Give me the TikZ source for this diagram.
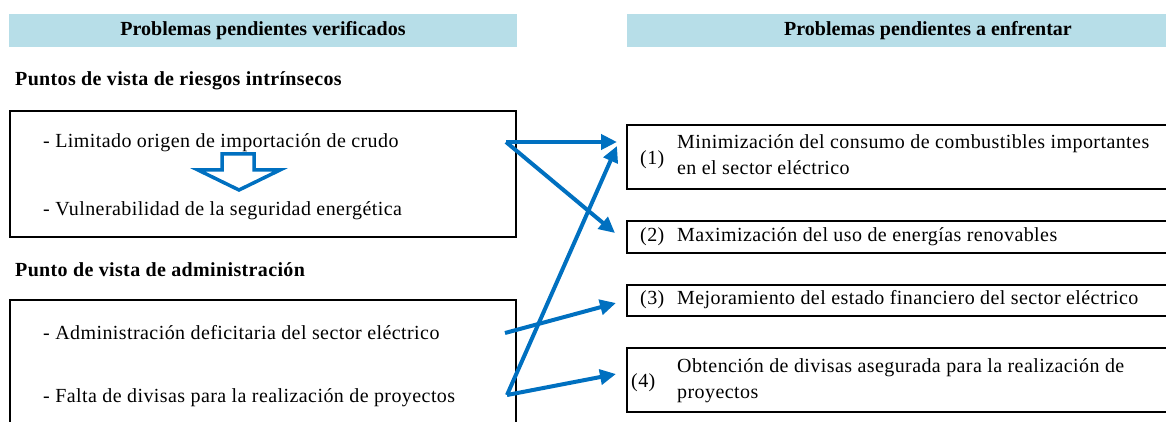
\documentclass[tikz,border=0pt]{standalone}
\usepackage{fontspec}
\setmainfont{Liberation Serif}
\usetikzlibrary{arrows.meta}
\definecolor{hdrblue}{HTML}{B7DEE8}
\definecolor{arrblue}{HTML}{0070C0}
\tikzset{
  hdr/.style={fill=hdrblue, draw=none},
  frame/.style={draw=black, line width=2pt},
  txt/.style={anchor=base west, inner sep=0pt, font=\fontsize{20}{24}\selectfont\addfontfeatures{LetterSpace=2.1}},
  btxt/.style={anchor=base west, inner sep=0pt, font=\fontsize{20}{24}\selectfont\bfseries\addfontfeatures{LetterSpace=1.8}},
  link/.style={draw=arrblue, line width=4pt, -{Triangle[length=16pt,width=15pt]}},
  hollow/.style={draw=arrblue, line width=3.5pt, fill=white, line join=miter},
}
\begin{document}
\begin{tikzpicture}[x=1pt,y=-1pt]
\useasboundingbox (0,0) rectangle (1166,422);
\clip (0,0) rectangle (1166,422);
% headers
\fill[hdr] (9,14) rectangle (517,47);
\node[inner sep=0pt, font=\fontsize{20}{24}\selectfont\bfseries] (hl) at (263,31) {Problemas pendientes verificados};
\fill[hdr] (627,14) rectangle (1240,47);
\node[inner sep=0pt, font=\fontsize{20}{24}\selectfont\bfseries] (hr) at (928,31) {Problemas pendientes a enfrentar};
% left column
\node[btxt] (sub1) at (15,86) {Puntos de vista de riesgos intrínsecos};
\draw[frame] (10,111) rectangle (516,237);
\node[txt] (t1) at (43,148) {- Limitado origen de importación de crudo};
\draw[hollow] (222,154) -- (254,154) -- (254,170) -- (280,170) -- (239,190) -- (198,170) -- (222,170) -- cycle;
\node[txt] (t2) at (43,215) {- Vulnerabilidad de la seguridad energética};
\node[btxt] (sub2) at (15,276) {Punto de vista de administración};
\draw[frame] (10,300) rectangle (516,460);
\node[txt] (t3) at (43,339) {- Administración deficitaria del sector eléctrico};
\node[txt] (t4) at (43,402) {- Falta de divisas para la realización de proyectos};
% right column
\draw[frame] (627,125) rectangle (1240,189);
\node[txt, anchor=west] (n1) at (640,160) {(1)};
\node[txt] (r1a) at (677,149) {Minimización del consumo de combustibles importantes};
\node[txt] (r1b) at (677,175) {en el sector eléctrico};
\draw[frame] (627,221) rectangle (1240,253);
\node[txt, anchor=west] (n2) at (640,237) {(2)};
\node[txt, anchor=west] (r2) at (677,237) {Maximización del uso de energías renovables};
\draw[frame] (627,285) rectangle (1240,316);
\node[txt, anchor=west] (n3) at (640,300) {(3)};
\node[txt, anchor=west] (r3) at (677,300) {Mejoramiento del estado financiero del sector eléctrico};
\draw[frame] (627,348) rectangle (1240,412);
\node[txt, anchor=west] (n4) at (631,383) {(4)};
\node[txt] (r4a) at (677,372) {Obtención de divisas asegurada para la realización de};
\node[txt] (r4b) at (677,398) {proyectos};
% connectors
\coordinate (s1) at (506,142);
\coordinate (s3) at (505,333);
\coordinate (s4) at (507,395);
\coordinate (e1a) at (617,142);
\coordinate (e1b) at (617,146);
\coordinate (e2) at (615,233);
\coordinate (e3) at (616,303);
\coordinate (e4) at (616,374);
\draw[link] (s1) -- (e1a);
\draw[link] (s1) -- (e2);
\draw[link] (s3) -- (e3);
\draw[link] (s4) -- (e1b);
\draw[link] (s4) -- (e4);
\end{tikzpicture}
\end{document}
